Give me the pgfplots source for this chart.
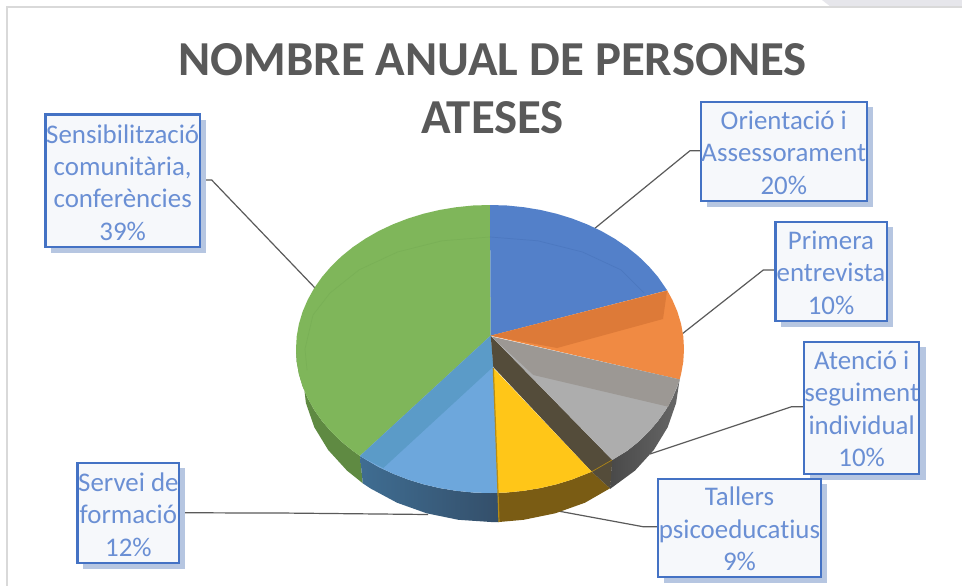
\documentclass[border=0pt]{standalone}
\usepackage{fontspec}
\setmainfont[Ligatures=NoCommon]{Carlito}
\usepackage{pgfplots}
\pgfplotsset{compat=1.18}
\definecolor{cBlue}{HTML}{5380C9}
\definecolor{cBlueL}{HTML}{4C78C0}
\definecolor{cOrange}{HTML}{F08A43}
\definecolor{cOrangeD}{HTML}{DD7A38}
\definecolor{cGray}{HTML}{ADADAD}
\definecolor{cGrayD}{HTML}{9C9894}
\definecolor{cGraySide}{HTML}{565656}
\definecolor{cYellow}{HTML}{FFC618}
\definecolor{cYellowS}{HTML}{7A5C14}
\definecolor{cBrown}{HTML}{544C3A}
\definecolor{cSky}{HTML}{6DA7DC}
\definecolor{cSkyD}{HTML}{5B9BC8}
\definecolor{cSkyA}{HTML}{3F6D92}
\definecolor{cSkyB}{HTML}{476C90}
\definecolor{cSkyC}{HTML}{344F6A}
\definecolor{cGreen}{HTML}{7FB65A}
\definecolor{cGreenL}{HTML}{79B056}
\definecolor{cGreenS}{HTML}{5F8A42}
\definecolor{cTitle}{HTML}{595959}
\definecolor{cBorder}{HTML}{4472C4}
\definecolor{cShadow}{HTML}{B6C6E1}
\definecolor{cBox}{HTML}{F6F8FB}
\definecolor{cText}{HTML}{6A8FD4}
\definecolor{cLead}{HTML}{5A5A5A}
\definecolor{cFrame}{HTML}{D9D9D9}
\definecolor{cCorner}{HTML}{E6E6EB}
\tikzset{lab/.style={font=\fontsize{27}{32.6}\selectfont,text=cText,align=center,inner sep=0pt}}
\pgfplotsset{
  leader/.style={draw=cLead,line width=1.2bp},
  shadowbox/.style={fill=cShadow,draw=none},
  labbox/.style={fill=cBox,draw=cBorder,line width=2.2bp},
}
\begin{document}
\begin{tikzpicture}
\begin{axis}[
  width=962bp,height=586bp,scale only axis,
  xmin=0,xmax=962,ymin=0,ymax=586,y dir=reverse,
  hide axis,no markers,enlargelimits=false,clip=true]
% page and frame
\addplot[fill=white,draw=none] coordinates {(0,0)(962,0)(962,586)(0,586)};
\addplot[fill=cCorner,draw=none] coordinates {(822,0)(831,7)(962,7)(962,0)};
\addplot[draw=cFrame,line width=2bp] coordinates {(7,586)(7,7.5)(962,7.5)};
% leaders behind the pie
\addplot[leader] coordinates {(200,180)(211.7,180)(316,289)};
\addplot[leader] coordinates {(701,150.7)(690,150.7)(594,229)};
\addplot[leader] coordinates {(775,270)(763.3,270)(682,334)};
\addplot[leader] coordinates {(803,406.7)(791.7,406.7)(650,454)};
\addplot[leader] coordinates {(657,526.7)(643,526.7)(558,511)};
\addplot[leader] coordinates {(180,512.7)(250,513)(280,513)(428,514.5)};
% side faces
\addplot[fill=cGreenS,draw=none] coordinates {(360,456)(352.8,450.8)(341.4,441.6)(331.1,431.6)(322,421)(314.2,409.9)(307.7,398.2)(302.6,386.3)(298.9,374)(296.7,361.6)(296,349)(303,378)(305.9,403)(314.3,427.2)(328.2,450)(347,470.6)(362.8,483.3)};
\addplot[left color=cSkyA,middle color=cSkyB,right color=cSkyC,draw=none] coordinates {(360,456)(378.7,467)(393,473.7)(408,479.5)(423.6,484.3)(439.8,488.1)(456.3,490.8)(473.1,492.5)(490,493)(498,492.8)(499,522)(491,522)(458.4,519.8)(426.7,513.3)(397,502.7)(370.2,488.3)(362.8,483.3)};
\addplot[fill=cYellowS,draw=none] coordinates {(498,492.8)(506.9,492.5)(523.7,490.8)(540.2,488.1)(556.4,484.3)(572,479.5)(591.7,471.7)(610,488.3)(585,502.7)(555.3,513.3)(523.6,519.8)(499,522)};
\addplot[left color=cGraySide!85!black,right color=cGraySide!90!white,draw=none] coordinates {(679.7,379)(677.4,386.3)(672.3,398.2)(665.8,409.9)(658,421)(648.9,431.6)(638.6,441.6)(627.2,450.8)(612,460)(610,489)(635,470.6)(653.8,450)(667.7,427.2)(676.1,403)};
% top faces
\addplot[fill=cGreen,draw=none] coordinates {(490.7,335.7)(360,456)(352.8,450.8)(341.4,441.6)(331.1,431.6)(322,421)(314.2,409.9)(307.7,398.2)(302.6,386.3)(298.9,374)(296.7,361.6)(296,349)(296.7,336.4)(298.9,324)(302.6,311.7)(307.7,299.8)(314.2,288.1)(322,277)(331.1,266.4)(341.4,256.4)(352.8,247.2)(365.3,238.7)(378.7,231)(393,224.3)(408,218.5)(423.6,213.7)(439.8,209.9)(456.3,207.2)(473.1,205.5)(490,205)};
\addplot[fill=cBlue,draw=none] coordinates {(490.7,335.7)(490,205)(506.9,205.5)(523.7,207.2)(540.2,209.9)(556.4,213.7)(572,218.5)(587,224.3)(601.3,231)(614.7,238.7)(627.2,247.2)(638.6,256.4)(648.9,266.4)(658,277)(667.2,290.4)};
\addplot[fill=cOrange,draw=none] coordinates {(490.7,335.7)(667.2,290.4)(672.3,299.8)(677.4,311.7)(681.1,324)(683.3,336.4)(684,349)(683.3,361.6)(681.1,374)(679.7,379.5)};
\addplot[fill=cOrangeD,draw=none] coordinates {(490.7,335.7)(667,291)(663,319)(557,348)};
\addplot[fill=cSky,draw=none] coordinates {(490.7,335.7)(360,456)(365.3,459.3)(378.7,467)(393,473.7)(408,479.5)(423.6,484.3)(439.8,488.1)(456.3,490.8)(473.1,492.5)(490,493)(498,492.8)(493.3,366.7)};
\addplot[fill=cSkyD,draw=none] coordinates {(490.7,335.7)(360,456)(383.3,468)(493.3,366.7)};
\addplot[fill=cBrown,draw=none] coordinates {(490.7,335.7)(493.3,367)(591.7,471.7)(610,488.3)(612.3,460)};
\addplot[fill=cYellow,draw=none] coordinates {(493.3,368)(498,492.8)(506.9,492.5)(523.7,490.8)(540.2,488.1)(556.4,484.3)(572,479.5)(591.7,471.7)};
\addplot[draw=cYellowS!55!cYellow,line width=1.2bp] coordinates {(493.3,368)(498,492.8)(499,522)};
\addplot[draw=cYellowS!60!cYellow,line width=0.7bp] coordinates {(591.7,471.7)(612,460)};
\addplot[fill=cGray,draw=none] coordinates {(491.7,336.7)(679.7,379.5)(677.4,386.3)(672.3,398.2)(665.8,409.9)(658,421)(648.9,431.6)(638.6,441.6)(627.2,450.8)(612.3,460)};
\addplot[fill=cGrayD,draw=none] coordinates {(491.7,336.7)(679.7,379.5)(668.3,406.7)(533.3,375)};
% faint inner ring
\addplot[draw=cBlueL,line width=0.7bp] coordinates {(490,237)(537.9,240.8)(582.5,252)(620.8,269.8)(644,293)};
\addplot[draw=cGreenL,line width=0.7bp] coordinates {(490,237)(442.1,240.8)(397.5,252)(359.2,269.8)(330,293)(313,315)(305,349)(307,370)};
% label boxes
\addplot[shadowbox] coordinates {(51,120)(206,120)(206,253)(51,253)};
\addplot[labbox] coordinates {(45.5,114.5)(200,114.5)(200,247)(45.5,247)} -- cycle;
\addplot[shadowbox] coordinates {(707,107)(873,107)(873,207)(707,207)};
\addplot[labbox] coordinates {(701,101.7)(866.7,101.7)(866.7,200.7)(701,200.7)} -- cycle;
\addplot[shadowbox] coordinates {(781,227)(893,227)(893,327)(781,327)};
\addplot[labbox] coordinates {(775.5,221.7)(886.7,221.7)(886.7,320.7)(775.5,320.7)} -- cycle;
\addplot[shadowbox] coordinates {(810,347)(926,347)(926,480)(810,480)};
\addplot[labbox] coordinates {(804,341.7)(919.3,341.7)(919.3,474)(804,474)} -- cycle;
\addplot[shadowbox] coordinates {(664,484)(827,484)(827,583)(664,583)};
\addplot[labbox] coordinates {(658.3,479)(820.7,479)(820.7,577.3)(658.3,577.3)} -- cycle;
\addplot[shadowbox] coordinates {(83,468)(185,468)(185,569)(83,569)};
\addplot[labbox] coordinates {(77.5,462.7)(179.3,462.7)(179.3,563.3)(77.5,563.3)} -- cycle;
% texts
\node[font=\fontsize{49}{58}\selectfont\bfseries,text=cTitle,align=center,inner sep=0pt] at (axis cs:492.5,89) {NOMBRE ANUAL DE PERSONES\\ATESES};
\node[lab] at (axis cs:122.7,182.5) {Sensibilització\\comunitària,\\conferències\\39\%};
\node[lab] at (axis cs:783.8,152.5) {Orientació i\\Assessorament\\20\%};
\node[lab] at (axis cs:831,272.5) {Primera\\entrevista\\10\%};
\node[lab] at (axis cs:861.7,409) {Atenció i\\seguiment\\individual\\10\%};
\node[lab] at (axis cs:739.5,529) {Tallers\\psicoeducatius\\9\%};
\node[lab] at (axis cs:128.4,514.5) {Servei de\\formació\\12\%};
\end{axis}
\end{tikzpicture}
\end{document}
